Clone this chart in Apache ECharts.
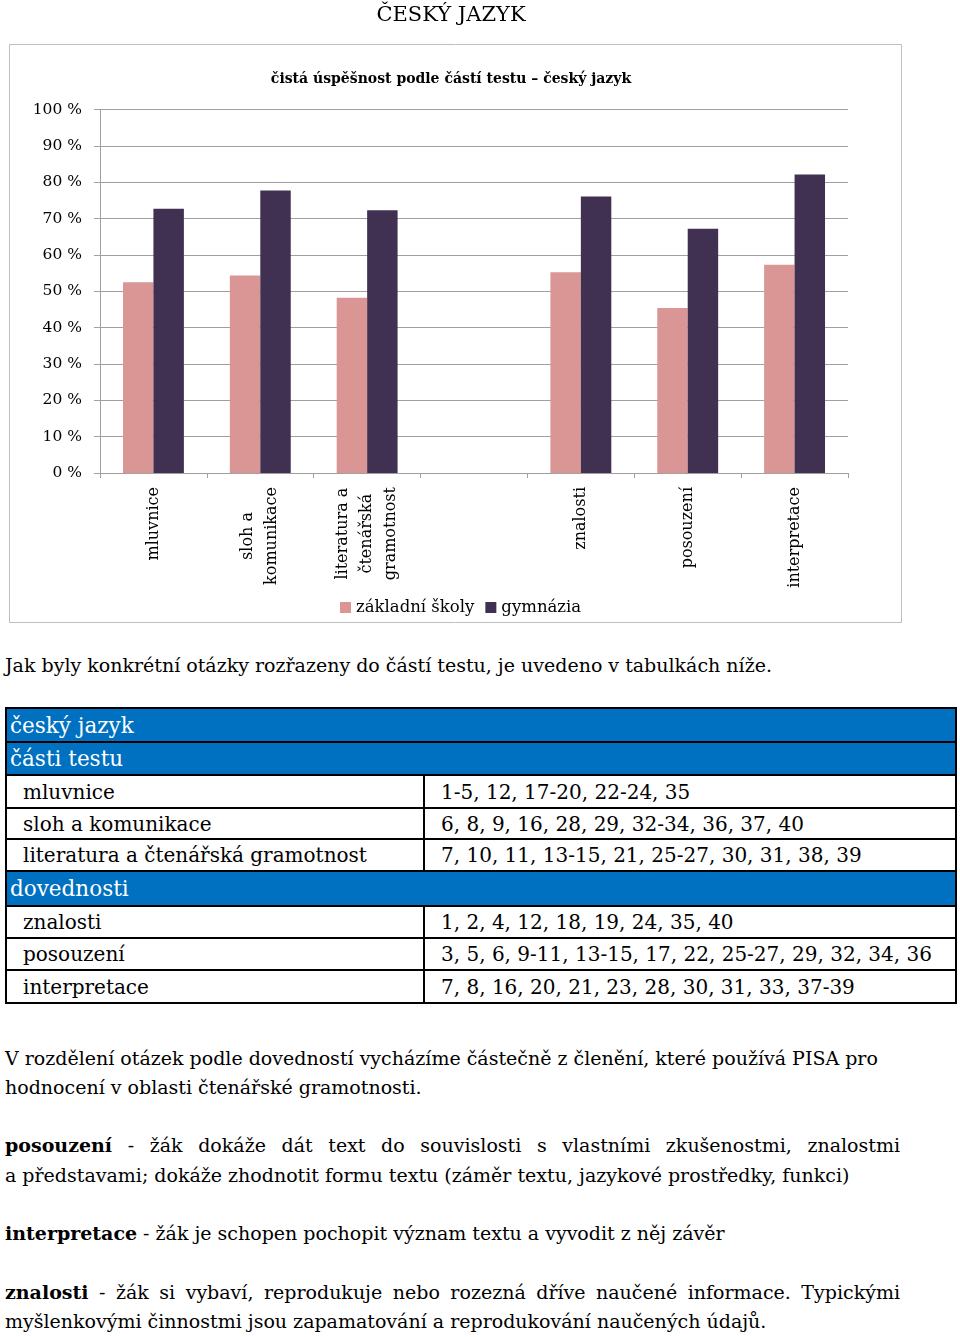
<!DOCTYPE html>
<html>
<head>
<meta charset="utf-8">
<script src="https://cdn.jsdelivr.net/npm/echarts@6/dist/echarts.min.js"></script>
<style>
  html, body { margin: 0; padding: 0; background: #fff; }
  body { font-family: 'DejaVu Serif', serif; color: #000; width: 960px; height: 1337px; position: relative; overflow: hidden; }
  #chart { position: absolute; left: 0; top: 0; width: 960px; height: 640px; }
  .ln { position: absolute; left: 5px; font-size: 19px; line-height: 28px; white-space: nowrap; }
  .jst { width: 895px; text-align: justify; text-align-last: justify; white-space: normal; }
  table { position: absolute; left: 5px; top: 707px; width: 952px; border-collapse: collapse; font-size: 20px; table-layout: fixed; }
  td { border: 2px solid #000; padding: 0 0 0 16px; white-space: nowrap; vertical-align: middle; }
  td.hd { background: #0070C0; color: #fff; padding-left: 3px; font-size: 21.5px; }
</style>
</head>
<body>
<div id="chart"></div>

<div class="ln" style="top:651px">Jak byly konkrétní otázky rozřazeny do částí testu, je uvedeno v tabulkách níže.</div>

<table id="tbl"></table>

<div class="ln" style="top:1044px">V rozdělení otázek podle dovedností vycházíme částečně z členění, které používá PISA pro</div>
<div class="ln" style="top:1073px">hodnocení v oblasti čtenářské gramotnosti.</div>
<div class="ln jst" style="top:1131px"><b>posouzení</b> - žák dokáže dát text do souvislosti s&nbsp;vlastními zkušenostmi, znalostmi</div>
<div class="ln" style="top:1161px">a představami; dokáže zhodnotit formu textu (záměr textu, jazykové prostředky, funkci)</div>
<div class="ln" style="top:1219px"><b>interpretace</b> - žák je schopen pochopit význam textu a vyvodit z něj závěr</div>
<div class="ln jst" style="top:1278px"><b>znalosti</b> - žák si vybaví, reprodukuje nebo rozezná dříve naučené informace. Typickými</div>
<div class="ln" style="top:1307px">myšlenkovými činnostmi jsou zapamatování a reprodukování naučených údajů.</div>

<script>
// ---- chart data ----
const categories = ['mluvnice', 'sloh a\nkomunikace', 'literatura a\nčtenářská\ngramotnost', '', 'znalosti', 'posouzení', 'interpretace'];
const seriesNames = ['základní školy', 'gymnázia'];
const zakladniSkoly = [52.5, 54.3, 48.2, null, 55.2, 45.4, 57.3];
const gymnazia = [72.7, 77.7, 72.3, null, 76.1, 67.2, 82.1];
const yMin = 0, yMax = 100, yStep = 10;

// ---- table data ----
const tableTitle = 'český jazyk';
const sectionParts = 'části testu';
const partsRows = [
  ['mluvnice', '1-5, 12, 17-20, 22-24, 35'],
  ['sloh a komunikace', '6, 8, 9, 16, 28, 29, 32-34, 36, 37, 40'],
  ['literatura a čtenářská gramotnost', '7, 10, 11, 13-15, 21, 25-27, 30, 31, 38, 39']
];
const sectionSkills = 'dovednosti';
const skillsRows = [
  ['znalosti', '1, 2, 4, 12, 18, 19, 24, 35, 40'],
  ['posouzení', '3, 5, 6, 9-11, 13-15, 17, 22, 25-27, 29, 32, 34, 36'],
  ['interpretace', '7, 8, 16, 20, 21, 23, 28, 30, 31, 33, 37-39']
];

// build table
(function () {
  const t = document.getElementById('tbl');
  const cg = document.createElement('colgroup');
  cg.innerHTML = '<col style="width:418px"><col>';
  t.appendChild(cg);
  function hdr(text, h) {
    const tr = document.createElement('tr');
    tr.style.height = h + 'px';
    const td = document.createElement('td');
    td.colSpan = 2; td.className = 'hd'; td.textContent = text;
    tr.appendChild(td); t.appendChild(tr);
  }
  function row(r, h) {
    const tr = document.createElement('tr');
    tr.style.height = h + 'px';
    r.forEach(function (c) { const td = document.createElement('td'); td.textContent = c; tr.appendChild(td); });
    t.appendChild(tr);
  }
  hdr(tableTitle, 34);
  hdr(sectionParts, 33);
  const ph = [33, 31, 32];
  partsRows.forEach(function (r, i) { row(r, ph[i]); });
  hdr(sectionSkills, 35);
  const sh = [32, 32, 33];
  skillsRows.forEach(function (r, i) { row(r, sh[i]); });
})();

const FONT = 'DejaVu Serif';
const gridColor = '#A0A0A0';
const chart = echarts.init(document.getElementById('chart'), null, { renderer: 'canvas' });
chart.setOption({
  animation: false,
  backgroundColor: '#fff',
  title: [
    { text: 'ČESKÝ JAZYK', left: 451, textAlign: 'center', top: 5, padding: 0,
      textStyle: { fontFamily: FONT, fontSize: 21, fontWeight: 'normal', color: '#000' } },
    { text: 'čistá úspěšnost podle částí testu – český jazyk', left: 451, textAlign: 'center', top: 72, padding: 0,
      textStyle: { fontFamily: FONT, fontSize: 14, fontWeight: 'bold', color: '#000' } }
  ],
  graphic: [
    { type: 'rect', silent: true, z: -10,
      shape: { x: 9.5, y: 44.5, width: 892, height: 578 },
      style: { fill: 'none', stroke: '#BFBFBF', lineWidth: 1 } }
  ],
  legend: {
    left: 340, top: 599, orient: 'horizontal', padding: 0,
    icon: 'rect', itemWidth: 11, itemHeight: 11, itemGap: 11,
    textStyle: { fontFamily: FONT, fontSize: 16.5, color: '#000' },
    data: seriesNames
  },
  grid: { left: 100, top: 109.5, width: 748, height: 363.5, containLabel: false, outerBoundsMode: 'none' },
  xAxis: {
    type: 'category',
    data: categories,
    axisLine: { show: true, lineStyle: { color: gridColor, width: 1 } },
    axisTick: { show: true, length: 5, alignWithLabel: false, interval: 0, lineStyle: { color: gridColor } },
    splitLine: { show: false },
    axisLabel: {
      interval: 0, rotate: 90, margin: 14,
      formatter: function (v) { return v.split('\n').map(function (s) { return '{a|' + s + '}'; }).join('\n'); },
      rich: { a: { align: 'center', fontFamily: FONT, fontSize: 16, lineHeight: 24, color: '#000' } }
    }
  },
  yAxis: {
    type: 'value', min: yMin, max: yMax, interval: yStep,
    axisLine: { show: true, lineStyle: { color: gridColor, width: 1 } },
    axisTick: { show: true, length: 6, lineStyle: { color: gridColor } },
    splitLine: { show: true, lineStyle: { color: gridColor, width: 1 } },
    axisLabel: { formatter: '{value} %', margin: 18, fontFamily: FONT, fontSize: 15.5, color: '#000' }
  },
  series: [
    { name: seriesNames[0], type: 'bar', data: zakladniSkoly, barGap: '0%', barCategoryGap: '43%',
      itemStyle: { color: '#D99694' } },
    { name: seriesNames[1], type: 'bar', data: gymnazia, barGap: '0%', barCategoryGap: '43%',
      itemStyle: { color: '#403152' } }
  ]
});
</script>
</body>
</html>
